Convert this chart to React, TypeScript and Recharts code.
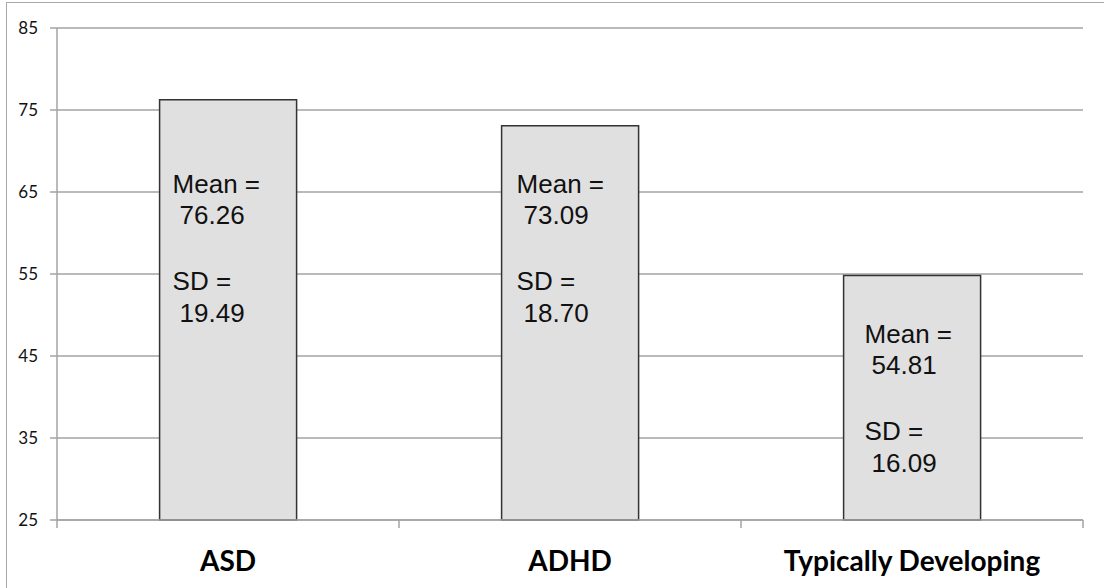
import { Bar, BarChart, CartesianGrid, LabelList, XAxis, YAxis } from 'recharts';

const categories = ['ASD', 'ADHD', 'Typically Developing'];
const means = [76.26, 73.09, 54.81];
const sds = [19.49, 18.7, 16.09];
const yTicks = [25, 35, 45, 55, 65, 75, 85];

const data = categories.map((name, i) => ({ name, mean: means[i], sd: sds[i] }));

// label placement inside each bar (px from bar's left edge / top edge)
const labelDx = [13, 15, 21];
const labelDy = [93, 67, 67];
const HALF_BAND = 171;

const gridColor = '#a3a3a3';

function BarText(props: any) {
  const { x, y, index } = props;
  const d = data[index];
  const lx = x + labelDx[index];
  const ly = y + labelDy[index];
  const style = { fontFamily: '"Liberation Sans", Arial, sans-serif', fontSize: 26, fill: '#111' };
  return (
    <g>
      <text x={lx} y={ly} style={style}>Mean =</text>
      <text x={lx + 7} y={ly + 31} style={style}>{d.mean.toFixed(2)}</text>
      <text x={lx} y={ly + 97} style={style}>SD =</text>
      <text x={lx + 7} y={ly + 129} style={style}>{d.sd.toFixed(2)}</text>
    </g>
  );
}

function CategoryTick(props: any) {
  const { x, y, payload, index } = props;
  return (
    <g>
      {index === 0 && <line x1={x - HALF_BAND} y1={y} x2={x - HALF_BAND} y2={y + 8} stroke={gridColor} strokeWidth={1.5} />}
      <line x1={x + HALF_BAND} y1={y} x2={x + HALF_BAND} y2={y + 8} stroke={gridColor} strokeWidth={1.5} />
      <text
        x={x}
        y={y + 51}
        textAnchor="middle"
        style={{ fontFamily: 'Lato, sans-serif', fontWeight: 700, fontSize: 28, fill: '#000' }}
      >
        {payload.value}
      </text>
    </g>
  );
}

function ValueTick(props: any) {
  const { x, y, payload } = props;
  return (
    <text
      x={x}
      y={y + 6}
      textAnchor="end"
      style={{ fontFamily: 'Lato, sans-serif', fontSize: 17, fill: '#111' }}
    >
      {payload.value}
    </text>
  );
}

export default function App() {
  return (
    <div style={{ position: 'absolute', left: 0, top: 0, width: 1104, height: 588, overflow: 'hidden', background: '#fff' }}>
      <div
        style={{
          position: 'absolute',
          left: 6,
          top: 2,
          width: 1120,
          height: 620,
          border: '1.5px solid #a8a8a8',
        }}
      />
      <BarChart
        width={1104}
        height={588}
        data={data}
        margin={{ top: 28, right: 21, bottom: 0, left: 0 }}
        barCategoryGap="30%"
      >
        <CartesianGrid vertical={false} stroke={gridColor} strokeWidth={1.5} />
        <XAxis
          dataKey="name"
          height={68}
          tickLine={false}
          tickSize={0}
          tickMargin={0}
          interval={0}
          stroke={gridColor}
          strokeWidth={1.5}
          tick={<CategoryTick />}
        />
        <YAxis
          width={57}
          domain={[25, 85]}
          ticks={yTicks}
          interval={0}
          tickSize={7}
          tickMargin={12}
          stroke={gridColor}
          strokeWidth={1.5}
          tick={<ValueTick />}
        />
        <Bar dataKey="mean" fill="#e0e0e0" stroke="#333" strokeWidth={1.5} isAnimationActive={false}>
          <LabelList dataKey="mean" content={<BarText />} />
        </Bar>
      </BarChart>
    </div>
  );
}
